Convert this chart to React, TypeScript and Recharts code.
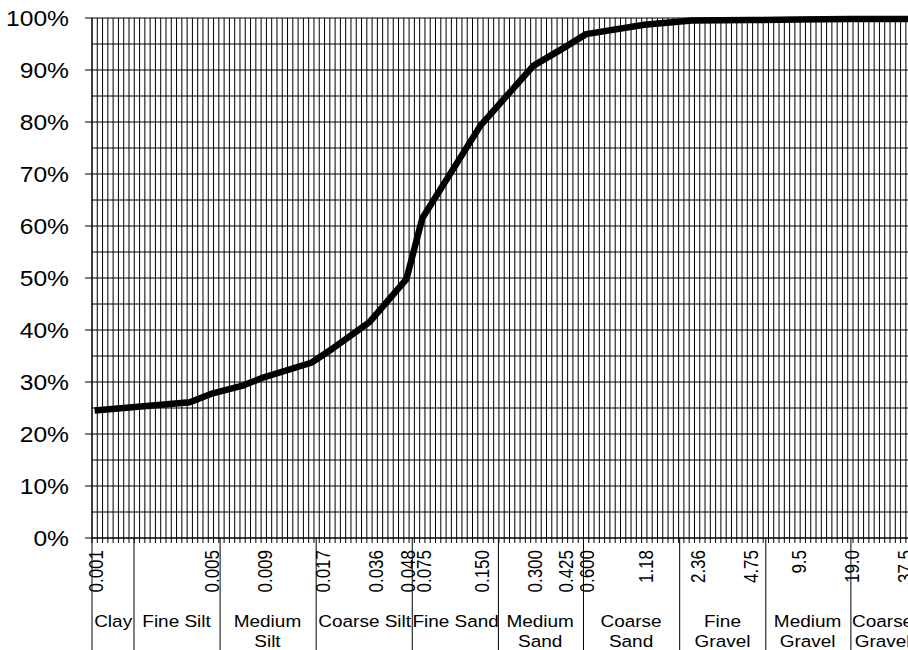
import React from "react";
import { LineChart, Line, XAxis, YAxis, CartesianGrid } from "recharts";

// sheet rows along the x axis (about 10 rows per doubling of grain size)
const ROW_COUNT = 165;

const sizeLabels = ["0.001", "0.005", "0.009", "0.017", "0.036", "0.048", "0.075", "0.150", "0.300", "0.425", "0.600", "1.18", "2.36", "4.75", "9.5", "19.0", "37.5"];
const sizeLabelRows = [0, 22, 32, 43, 53, 59, 62, 73, 83, 89, 93, 104, 114, 124, 133, 143, 153];

const sampleRows = [0, 18, 22, 28, 32, 41, 45, 52, 59, 62, 73, 83, 89, 93, 104, 113, 124, 133, 143, 153, 163];
const percentPassing = [24.5, 26.1, 27.7, 29.3, 30.9, 33.7, 36.4, 41.5, 49.8, 61.5, 79.3, 90.8, 94.4, 96.9, 98.7, 99.5, 99.6, 99.7, 99.8, 99.8, 99.8];

const classNames = [["Clay"], ["Fine Silt"], ["Medium", "Silt"], ["Coarse Silt"], ["Fine Sand"], ["Medium", "Sand"], ["Coarse", "Sand"], ["Fine", "Gravel"], ["Medium", "Gravel"], ["Coarse", "Gravel"]];
const classCentres = [4, 16, 33.2, 51.6, 68.8, 84.8, 102, 119.3, 135.4, 149.6];
const classEdges = [0, 7.95, 24.24, 42.42, 60.6, 76.9, 93, 111.2, 127.5, 143.6];

const yTicks = [0, 10, 20, 30, 40, 50, 60, 70, 80, 90, 100];
const yGrid = [0, 5, 10, 15, 20, 25, 30, 35, 40, 45, 50, 55, 60, 65, 70, 75, 80, 85, 90, 95, 100];

const FONT = "'Liberation Sans', Arial, sans-serif";

const data = sampleRows.map((r, i) => ({ pos: r + 0.5, pct: percentPassing[i] }));

type TickInfo = { minor?: boolean; size?: string; edge?: boolean; cls?: string[] };
const tickInfo = new Map<number, TickInfo>();
const addTick = (v: number, patch: TickInfo) => tickInfo.set(v, { ...(tickInfo.get(v) || {}), ...patch });

const rowLines: number[] = [];
for (let i = 0; i <= ROW_COUNT; i++) {
  rowLines.push(i);
  addTick(i, { minor: true });
}
sizeLabelRows.forEach((r, i) => addTick(r + 0.5, { size: sizeLabels[i] }));
classEdges.forEach((e) => addTick(e, { edge: true }));
classCentres.forEach((c, i) => addTick(c, { cls: classNames[i] }));
const xTicks = [...tickInfo.keys()].sort((a, b) => a - b);

function XTick(props: any) {
  const { x, y, payload } = props;
  const info = tickInfo.get(payload.value);
  if (!info) return null;
  return (
    <g>
      {info.minor && <line x1={x} y1={y} x2={x} y2={y + 5} stroke="#000" />}
      {info.edge && <line x1={x} y1={y} x2={x} y2={y + 115} stroke="#000" />}
      {info.size && (
        <text
          transform={`translate(${x} ${y + 12}) rotate(-90) scale(1 1.15)`}
          textAnchor="end"
          dominantBaseline="central"
          dy={1.2}
          fontSize={17}
          fontFamily={FONT}
          fill="#000"
        >
          {info.size}
        </text>
      )}
      {info.cls &&
        info.cls.map((line, j) => (
          <text
            key={line}
            transform={`translate(${x} ${y + 89 + j * 20}) scale(1.15 1)`}
            textAnchor="middle"
            fontSize={16.5}
            fontFamily={FONT}
            fill="#000"
          >
            {line}
          </text>
        ))}
    </g>
  );
}

function YTick(props: any) {
  const { x, y, payload } = props;
  return (
    <text
      transform={`translate(${x} ${y}) scale(1.12 1)`}
      textAnchor="end"
      dominantBaseline="central"
      fontSize={22}
      fontFamily={FONT}
      fill="#000"
    >
      {payload.value}%
    </text>
  );
}

export default function App() {
  return (
    <div style={{ position: "absolute", left: 0, top: 0, width: 908, height: 650, overflow: "hidden", background: "#fff" }}>
      <LineChart width={964} height={650} data={data} margin={{ top: 18, right: 0, bottom: 0, left: 0 }}>
        <CartesianGrid stroke="#000" horizontalValues={yGrid} verticalValues={rowLines} />
        <XAxis
          dataKey="pos"
          type="number"
          domain={[0, ROW_COUNT]}
          ticks={xTicks}
          interval={0}
          height={112}
          tickSize={0}
          tickMargin={0}
          tickLine={false}
          axisLine={{ stroke: "#000" }}
          tick={<XTick />}
        />
        <YAxis
          type="number"
          domain={[0, 100]}
          ticks={yTicks}
          interval={0}
          width={92}
          tickSize={7}
          tickMargin={16}
          axisLine={{ stroke: "#000" }}
          tickLine={{ stroke: "#000" }}
          tick={<YTick />}
        />
        <Line
          type="linear"
          dataKey="pct"
          stroke="#000"
          strokeWidth={6.5}
          strokeLinejoin="round"
          dot={false}
          activeDot={false}
          isAnimationActive={false}
        />
      </LineChart>
    </div>
  );
}
